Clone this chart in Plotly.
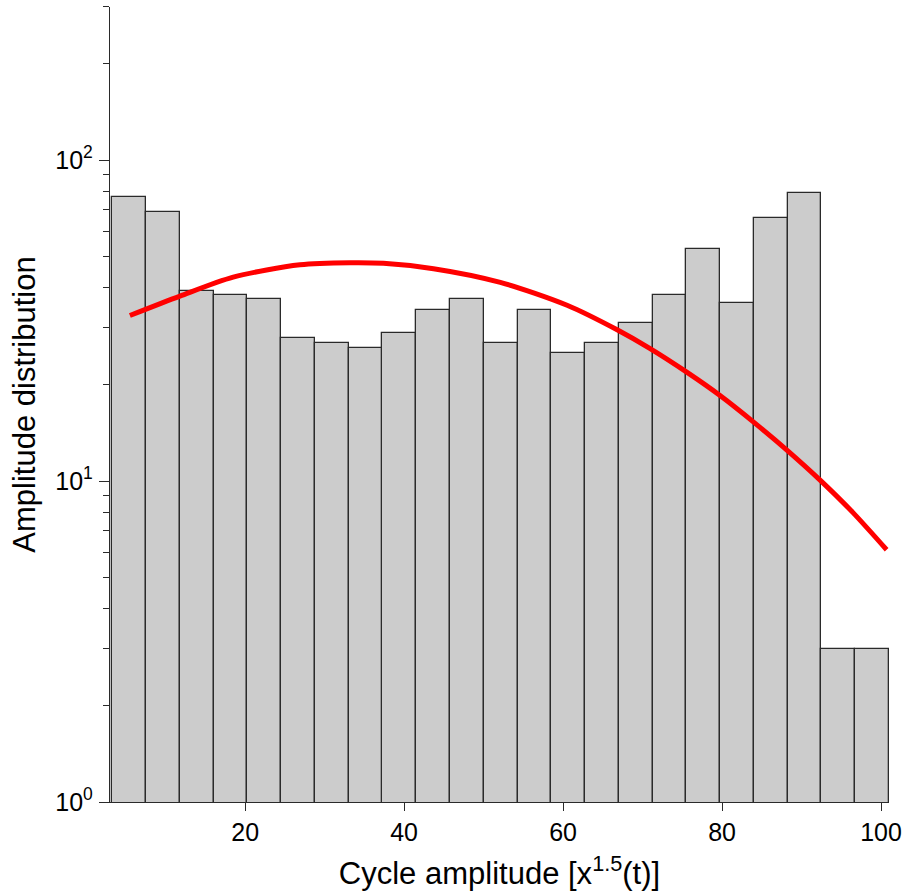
import plotly.graph_objects as go

# Histogram bins (centres in x units) and counts
bin_centers = [5.42, 9.67, 13.92, 18.17, 22.41, 26.66, 30.91, 35.16, 39.40, 43.65,
               47.90, 52.15, 56.40, 60.64, 64.89, 69.14, 73.39, 77.63, 81.88, 86.13,
               90.38, 94.63, 98.87]
bin_width = 4.248
counts = [77, 69, 39, 38, 37, 28, 27, 26, 29, 34,
          37, 27, 34, 25, 27, 31, 38, 53, 36, 66,
          79, 3, 3]

# Fitted curve
fit_x = [5.5, 11.8, 18.5, 26.9, 33.2, 37.4, 43.7, 52.1, 60.5, 66.8,
         70.9, 75.6, 79.7, 84.2, 88.3, 92.5, 96.5, 100.7]
fit_y = [32.8, 37.7, 43.2, 47.2, 47.9, 47.7, 45.9, 41.6, 35.3, 29.6,
         25.9, 21.8, 18.5, 15.1, 12.4, 9.98, 7.96, 6.11]

x_tick_vals = [20, 40, 60, 80, 100]
y_tick_vals = [1, 10, 100]
y_tick_text = ["10<sup>0</sup>", "10<sup>1</sup>", "10<sup>2</sup>"]
y_minor_vals = [2, 3, 4, 5, 6, 7, 8, 9, 20, 30, 40, 50, 60, 70, 80, 90, 200, 300]

FONT = "Arial, Liberation Sans, sans-serif"

fig = go.Figure()
fig.add_trace(go.Bar(
    x=bin_centers, y=counts, width=[bin_width] * len(counts),
    marker=dict(color="#cccccc", line=dict(color="#2a2a2a", width=1.3)),
    showlegend=False,
))
fig.add_trace(go.Scatter(
    x=fit_x, y=fit_y, mode="lines",
    line=dict(color="#ff0000", width=5, shape="spline", smoothing=0.8),
    showlegend=False,
))

fig.update_layout(
    width=905, height=894,
    margin=dict(l=110, r=16, t=7, b=92, autoexpand=False),
    paper_bgcolor="white", plot_bgcolor="white",
    bargap=0,
    font=dict(family=FONT, color="black"),
)
fig.update_xaxes(
    range=[3.0, 101.0], showgrid=False, zeroline=False, automargin=False,
    showline=True, linecolor="#2a2a2a", linewidth=1.3,
    ticks="outside", ticklen=8, tickwidth=1.3, tickcolor="#2a2a2a",
    tickvals=x_tick_vals, tickfont=dict(size=25, family=FONT),
    ticklabelstandoff=0,
    title=dict(text="Cycle amplitude [x<sup>1.5</sup>(t)]", font=dict(size=31, family=FONT), standoff=17),
)
fig.update_yaxes(
    type="log", range=[0, 2.4771], showgrid=False, zeroline=False, automargin=False,
    showline=True, linecolor="#2a2a2a", linewidth=1.3,
    ticks="outside", ticklen=10, tickwidth=1.3, tickcolor="#2a2a2a",
    tickvals=y_tick_vals, ticktext=y_tick_text, tickfont=dict(size=25, family=FONT),
    ticklabelstandoff=1,
    minor=dict(tickvals=y_minor_vals, ticks="outside", ticklen=6, tickwidth=1.3, tickcolor="#2a2a2a"),
    title=dict(text="Amplitude distribution", font=dict(size=31, family=FONT), standoff=10),
)

fig.write_html("out.html", config={"displayModeBar": False},
               post_script="document.body.style.margin='0';document.body.style.padding='0';")
